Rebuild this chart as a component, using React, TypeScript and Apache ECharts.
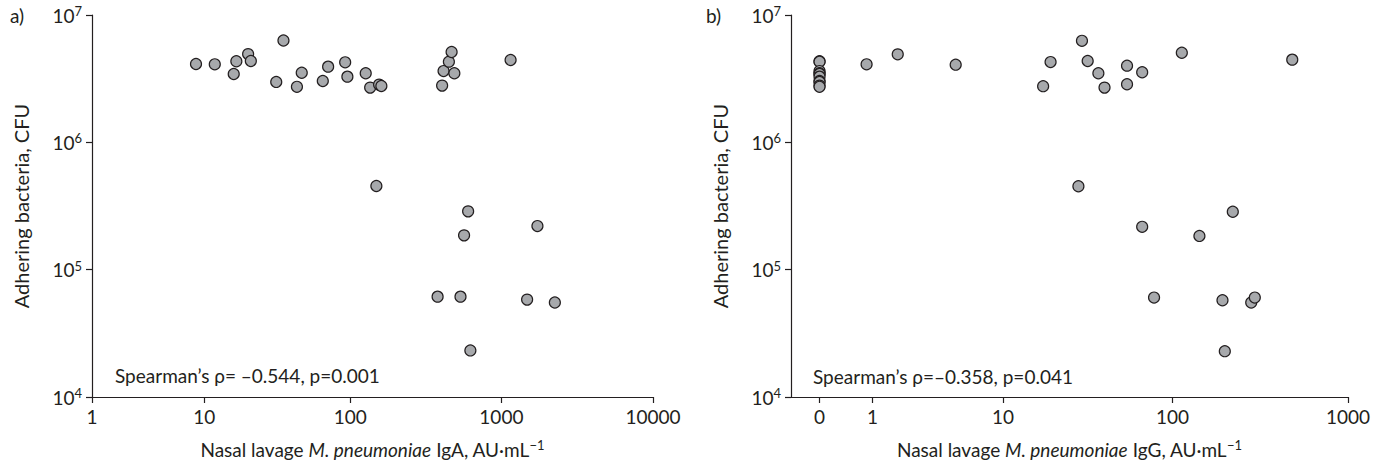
import React, { useEffect, useRef } from "react";
import * as echarts from "echarts";

// Panel a: nasal lavage IgA (AU/mL) vs adhering bacteria (CFU)
const igA = [8.7, 11.9, 16.2, 16.9, 20.4, 21.3, 35.6, 31.8, 43.9, 47.3, 65.5, 71.1, 92.4, 95.6, 126.6, 135.5, 155.3, 160.8, 406, 415, 450, 469, 489, 1150, 149, 603, 1729, 567, 379, 537, 1478, 2253, 624];
const cfuA = [4.12e6, 4.1e6, 3.44e6, 4.33e6, 4.93e6, 4.35e6, 6.31e6, 2.98e6, 2.73e6, 3.52e6, 3.03e6, 3.93e6, 4.25e6, 3.28e6, 3.49e6, 2.69e6, 2.84e6, 2.77e6, 2.79e6, 3.63e6, 4.3e6, 5.12e6, 3.49e6, 4.43e6, 4.54e5, 2.87e5, 2.2e5, 1.86e5, 6.14e4, 6.14e4, 5.82e4, 5.52e4, 2.32e4];

// Panel b: nasal lavage IgG (AU/mL) vs adhering bacteria (CFU)
const igG = [0, 0, 0, 0, 0, 0, 0, 0, 0, 0, 0.85, 1.78, 4.93, 17.6, 19.5, 29.9, 32.3, 37.3, 40.5, 54.7, 54.7, 66.9, 113, 482, 28.5, 221, 66.9, 142.5, 78.3, 193, 281.5, 295, 199];
const cfuB = [4.33e6, 4.3e6, 3.63e6, 3.49e6, 3.44e6, 3.28e6, 3.03e6, 2.98e6, 2.79e6, 2.73e6, 4.1e6, 4.91e6, 4.07e6, 2.76e6, 4.27e6, 6.27e6, 4.35e6, 3.49e6, 2.69e6, 4.0e6, 2.86e6, 3.55e6, 5.05e6, 4.46e6, 4.52e5, 2.85e5, 2.17e5, 1.84e5, 6.04e4, 5.75e4, 5.52e4, 6.04e4, 2.29e4];

const xTicksA = [1, 10, 100, 1000, 10000];
const xTicksB = [0, 1, 10, 100, 1000];
const yMin = 1e4;
const yMax = 1e7;

const statA = "Spearman\u2019s \u03c1= \u20130.544, p=0.001";
const statB = "Spearman\u2019s \u03c1=\u20130.358, p=0.041";
const yTitle = "Adhering bacteria, CFU";
const xTitleA = "Nasal lavage {i|M. pneumoniae} IgA, AU\u00b7mL{s|\u22121}";
const xTitleB = "Nasal lavage {i|M. pneumoniae} IgG, AU\u00b7mL{s|\u22121}";

const FONT = "Lato";
const INK = "#231f20";
const FILL = "#a7a9ac";
const FS = 19;

// axis uses log10(x + 1)
const tf = (v: number) => Math.log10(v + 1);
const untf = (t: number) => String(Math.round(Math.pow(10, t) - 1));

const titleRich = {
  i: { fontStyle: "italic", fontSize: FS, fontFamily: FONT, color: INK, lineHeight: 23 },
  s: { fontSize: 13, fontFamily: FONT, color: INK, verticalAlign: "top", lineHeight: 13 },
};

function xAxis(grid: number, ticks: number[], min: number, title: string) {
  const vals = ticks.map(tf);
  return {
    type: "value",
    gridIndex: grid,
    min,
    max: vals[vals.length - 1],
    axisLine: { show: true, onZero: false, lineStyle: { color: INK, width: 1.2 } },
    axisTick: { show: true, length: 6, customValues: vals, lineStyle: { color: INK, width: 1.2 } },
    axisLabel: { customValues: vals, formatter: untf, color: INK, fontSize: FS, fontFamily: FONT, margin: 10 },
    splitLine: { show: false },
    name: title,
    nameLocation: "middle",
    nameGap: 41,
    nameTextStyle: { color: INK, fontSize: FS, fontFamily: FONT, lineHeight: 23, rich: titleRich },
  };
}

function yAxis(grid: number) {
  return {
    type: "log",
    logBase: 10,
    gridIndex: grid,
    min: yMin,
    max: yMax,
    axisLine: { show: true, onZero: false, lineStyle: { color: INK, width: 1.2 } },
    axisTick: { show: true, length: 6, lineStyle: { color: INK, width: 1.2 } },
    minorTick: { show: false },
    axisLabel: {
      color: INK,
      margin: 10,
      formatter: (v: number) => `{b|10}{s|${Math.round(Math.log10(v))}}`,
      rich: {
        b: { fontSize: FS, fontFamily: FONT, color: INK, lineHeight: 21 },
        s: { fontSize: 13, fontFamily: FONT, color: INK, verticalAlign: "top", lineHeight: 13 },
      },
    },
    splitLine: { show: false },
    name: yTitle,
    nameLocation: "middle",
    nameGap: 61,
    nameTextStyle: { color: INK, fontSize: 20, fontFamily: FONT },
  };
}

function scatter(idx: number, xs: number[], ys: number[]) {
  return {
    type: "scatter",
    xAxisIndex: idx,
    yAxisIndex: idx,
    data: xs.map((v, i) => [tf(v), ys[i]]),
    symbol: "circle",
    symbolSize: 11,
    itemStyle: { color: FILL, borderColor: INK, borderWidth: 1.2, opacity: 1 },
  };
}

export default function App() {
  const ref = useRef<HTMLDivElement>(null);
  useEffect(() => {
    if (!ref.current) return;
    const chart = echarts.init(ref.current, null, { renderer: "svg" });
    chart.setOption({
      animation: false,
      backgroundColor: "#ffffff",
      textStyle: { fontFamily: FONT },
      grid: [
        { left: 92, top: 15, width: 561, height: 384 },
        { left: 791, top: 15, width: 557, height: 384 },
      ],
      xAxis: [xAxis(0, xTicksA, tf(1), xTitleA), xAxis(1, xTicksB, -0.162, xTitleB)],
      yAxis: [yAxis(0), yAxis(1)],
      series: [scatter(0, igA, cfuA), scatter(1, igG, cfuB)],
      graphic: [
        { type: "text", left: 10, top: 6, style: { text: "a)", fontSize: FS, fontFamily: FONT, fill: INK } },
        { type: "text", left: 706, top: 6, style: { text: "b)", fontSize: FS, fontFamily: FONT, fill: INK } },
        { type: "text", left: 115, top: 366, style: { text: statA, fontSize: FS, fontFamily: FONT, fill: INK } },
        { type: "text", left: 813, top: 367, style: { text: statB, fontSize: FS, fontFamily: FONT, fill: INK } },
      ],
    });
    return () => chart.dispose();
  }, []);
  return (
    <div
      ref={ref}
      style={{ position: "fixed", left: 0, top: 0, width: 1383, height: 466, background: "#fff" }}
    />
  );
}
